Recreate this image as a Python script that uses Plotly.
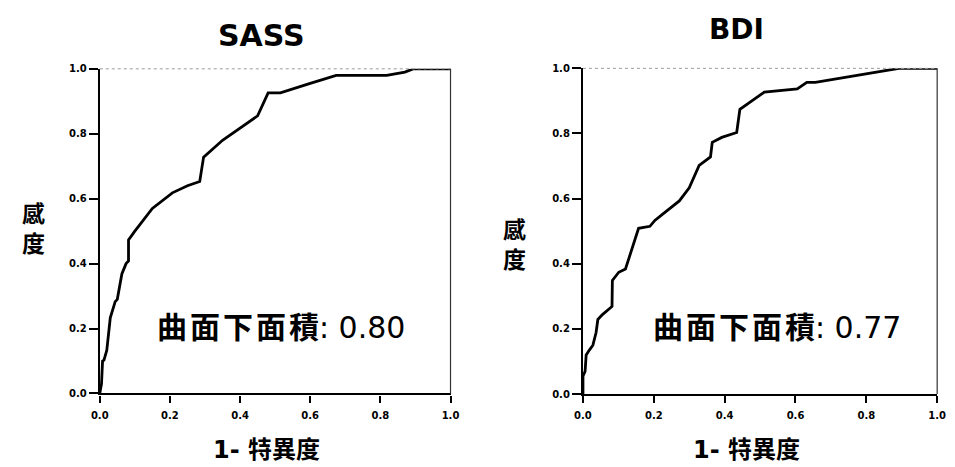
import plotly.graph_objects as go

# SASS ROC curve (1 - specificity, sensitivity)
sass_fpr = [0, 0.005, 0.008, 0.012, 0.02, 0.03, 0.044, 0.05, 0.063, 0.075, 0.082, 0.082,
            0.1, 0.124, 0.15, 0.207, 0.25, 0.285, 0.296, 0.35, 0.45, 0.48, 0.515, 0.6,
            0.674, 0.818, 0.87, 0.893, 1.0]
sass_tpr = [0, 0.03, 0.1, 0.103, 0.133, 0.233, 0.283, 0.29, 0.368, 0.40, 0.408, 0.473,
            0.50, 0.533, 0.57, 0.618, 0.64, 0.653, 0.728, 0.78, 0.855, 0.926, 0.926, 0.955,
            0.98, 0.98, 0.99, 1.0, 1.0]

# BDI ROC curve
bdi_fpr = [0, 0, 0.006, 0.009, 0.018, 0.028, 0.037, 0.042, 0.055, 0.082, 0.083, 0.101,
           0.12, 0.134, 0.157, 0.189, 0.203, 0.226, 0.272, 0.30, 0.328, 0.36, 0.365, 0.392,
           0.434, 0.443, 0.466, 0.512, 0.605, 0.632, 0.656, 0.725, 0.892, 1.0]
bdi_tpr = [0, 0.055, 0.07, 0.12, 0.135, 0.15, 0.189, 0.229, 0.244, 0.269, 0.349, 0.374,
           0.384, 0.434, 0.509, 0.515, 0.533, 0.553, 0.593, 0.633, 0.702, 0.728, 0.773, 0.788,
           0.803, 0.874, 0.892, 0.927, 0.937, 0.957, 0.957, 0.97, 1.0, 1.0]

tick_vals = [0, 0.2, 0.4, 0.6, 0.8, 1.0]
tick_text = ["0.0", "0.2", "0.4", "0.6", "0.8", "1.0"]

titles = ["SASS", "BDI"]
auc_name = "曲面下面積"
auc_labels = ["0.80", "0.77"]
x_title = "1- 特異度"
y_title = "感<br>度"

W, H = 955, 467
FONT = "'DejaVu Sans', 'Noto Sans CJK TC', sans-serif"

fig = go.Figure()
fig.add_trace(go.Scatter(x=sass_fpr, y=sass_tpr, mode="lines",
                         line=dict(color="black", width=2.8), xaxis="x", yaxis="y",
                         showlegend=False, hoverinfo="skip"))
fig.add_trace(go.Scatter(x=bdi_fpr, y=bdi_tpr, mode="lines",
                         line=dict(color="black", width=2.8), xaxis="x2", yaxis="y2",
                         showlegend=False, hoverinfo="skip"))

# window-pixel boxes of the two plot areas
boxes = [(92.5, 450, 64.5, 397.7), (585, 946, 64, 398.3)]

def px_x(p):
    return p / W

def px_y(p):
    return 1 - p / H

axis_common = dict(range=[0, 1], tickvals=tick_vals, ticktext=tick_text,
                   showgrid=False, zeroline=False, showline=True, linecolor="black",
                   linewidth=2.2, ticks="outside", ticklen=7, tickwidth=2, tickcolor="black",
                   tickfont=dict(family="DejaVu Sans", size=10, color="black", weight="bold"),
                   fixedrange=True)

layout = dict(width=W, height=H, margin=dict(l=0, r=0, t=0, b=0),
              paper_bgcolor="white", plot_bgcolor="white", showlegend=False)
for i, (x0, x1, yt, yb) in enumerate(boxes):
    sfx = "" if i == 0 else str(i + 1)
    layout["xaxis" + sfx] = dict(axis_common, domain=[px_x(x0), px_x(x1)],
                                 anchor="y" + sfx, ticklabelstandoff=4)
    layout["yaxis" + sfx] = dict(axis_common, domain=[px_y(yb), px_y(yt)],
                                 anchor="x" + sfx, ticklen=9)
fig.update_layout(**layout)

shapes = []
annotations = []
title_pos = [(257.5, 30, 30), (741.7, 24, 28)]
ylab_pos = [(24.5, 229), (515.5, 245)]
xlab_pos = [(262, 456), (752, 456)]
auc_pos = [(277.5, 330), (782.5, 330)]
hair = "\u200a"
for i in range(2):
    sfx = "" if i == 0 else str(i + 1)
    xr = "x" + sfx + " domain"
    yr = "y" + sfx + " domain"
    # faint top frame and thin right frame
    shapes.append(dict(type="line", xref=xr, yref=yr, x0=0, x1=1, y0=1, y1=1,
                       line=dict(color="#9a9a9a", width=1, dash="dot")))
    shapes.append(dict(type="line", xref=xr, yref=yr, x0=1, x1=1, y0=0, y1=1,
                       line=dict(color="#333333", width=1.2)))
    tx, ty, ts = title_pos[i]
    annotations.append(dict(text="<b>" + titles[i] + "</b>", x=px_x(tx), y=px_y(ty),
                            xref="paper", yref="paper", showarrow=False,
                            xanchor="center", yanchor="middle",
                            font=dict(family="DejaVu Sans", size=ts, color="black")))
    lx, ly = ylab_pos[i]
    annotations.append(dict(text="<b>" + y_title + "</b>", x=px_x(lx), y=px_y(ly),
                            xref="paper", yref="paper", showarrow=False,
                            xanchor="center", yanchor="middle",
                            font=dict(family=FONT, size=23, color="black")))
    bx, by = xlab_pos[i]
    annotations.append(dict(text="<b>" + x_title + "</b>", x=px_x(bx), y=px_y(by),
                            xref="paper", yref="paper", showarrow=False,
                            xanchor="center", yanchor="middle",
                            font=dict(family=FONT, size=24, color="black")))
    ax_, ay_ = auc_pos[i]
    annotations.append(dict(text="<b>" + hair.join(auc_name) + "</b>: " + auc_labels[i],
                            x=px_x(ax_), y=px_y(ay_),
                            xref="paper", yref="paper", showarrow=False,
                            xanchor="center", yanchor="middle",
                            font=dict(family=FONT, size=30, color="black")))

fig.update_layout(shapes=shapes, annotations=annotations)
# remove the default page margin so the figure sits exactly in the window
fig.write_html("out.html", config={"displayModeBar": False},
               post_script="document.body.style.margin='0';"
                           "document.body.style.overflow='hidden';")
